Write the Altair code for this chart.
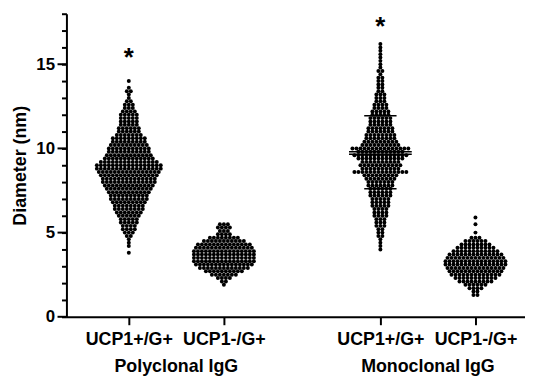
import altair as alt
import pandas as pd

# ---- data (beeswarm rows: value -> number of dots) ----
group_pos = [1.0, 2.0, 3.646, 4.646]
tick_labels = ["UCP1+/G+", "UCP1-/G+", "UCP1+/G+", "UCP1-/G+"]
group_titles = ["Polyclonal IgG", "Monoclonal IgG"]
group_title_pos = [1.5, 4.146]
major_ticks = [0, 5, 10, 15]
minor_ticks = list(range(0, 19))

poly_pos_values = [3.8, 4.2, 4.4, 4.6, 4.8, 5.0, 5.2, 5.4, 5.6, 5.8, 6.0, 6.2, 6.4, 6.6, 6.8,
                   7.0, 7.2, 7.4, 7.6, 7.8, 8.0, 8.2, 8.4, 8.6, 8.8, 9.0, 9.2, 9.4, 9.6, 9.8,
                   10.0, 10.2, 10.4, 10.6, 10.8, 11.0, 11.2, 11.4, 11.6, 11.8, 12.0, 12.2,
                   12.4, 12.6, 12.8, 13.0, 13.2, 13.4, 13.6, 14.0]
poly_pos_counts = [1, 1, 1, 1, 2, 3, 4, 4, 5, 5, 6, 7, 8, 8, 9,
                   10, 10, 11, 12, 13, 14, 14, 15, 16, 17, 17, 15, 13, 12, 11,
                   11, 10, 9, 9, 7, 6, 6, 5, 5, 5, 5, 4,
                   3, 3, 2, 1, 1, 2, 1, 1]

poly_neg_values = [1.9, 2.1, 2.3, 2.5, 2.7, 2.9, 3.1, 3.3, 3.5, 3.7, 3.9, 4.1, 4.3, 4.5,
                   4.7, 4.9, 5.1, 5.3, 5.5]
poly_neg_counts = [1, 2, 4, 7, 10, 13, 15, 16, 16, 16, 16, 15, 14, 11,
                   8, 4, 3, 4, 3]

mono_pos_values = [4.0, 4.2, 4.4, 4.6, 4.8, 5.0, 5.2, 5.4, 5.6, 5.8, 6.0, 6.2, 6.4, 6.6,
                   6.8, 7.0, 7.2, 7.4, 7.6, 7.8, 8.0, 8.2, 8.4, 8.6, 8.8, 9.0, 9.2, 9.4,
                   9.6, 9.8, 10.0, 10.2, 10.4, 10.6, 10.8, 11.0, 11.2, 11.4, 11.6, 11.8,
                   12.0, 12.2, 12.4, 12.6, 12.8, 13.0, 13.2, 13.4, 13.6, 13.8, 14.0, 14.2,
                   14.4, 14.6, 14.8, 15.0, 15.2, 15.4, 15.6, 15.8, 16.0, 16.2]
mono_pos_counts = [1, 1, 1, 1, 2, 2, 2, 3, 3, 3, 4, 4, 4, 5,
                   5, 5, 6, 6, 6, 7, 7, 8, 9, 14, 10, 11, 10, 12,
                   14, 12, 15, 10, 9, 8, 8, 7, 7, 6, 6, 6,
                   5, 5, 4, 4, 3, 3, 3, 2, 2, 2, 2, 2,
                   1, 2, 1, 1, 1, 1, 1, 1, 1, 1]

mono_neg_values = [1.3, 1.5, 1.7, 1.9, 2.1, 2.3, 2.5, 2.7, 2.9, 3.1, 3.3, 3.5, 3.7, 3.9,
                   4.1, 4.3, 4.5, 4.7, 5.0, 5.5, 5.9]
mono_neg_counts = [2, 2, 4, 6, 9, 11, 13, 14, 15, 16, 16, 15, 14, 12,
                   10, 8, 6, 3, 1, 1, 1]

# mean / median / SD lines visible on the monoclonal UCP1+/G+ group
stat_values = [9.8, 9.65, 11.94, 7.6]
stat_half_widths = [0.33, 0.33, 0.17, 0.17]

star_pos = [1.0, 3.646]
star_values = [14.9, 16.75]

# ---- build tables ----
series = [
    (poly_pos_values, poly_pos_counts),
    (poly_neg_values, poly_neg_counts),
    (mono_pos_values, mono_pos_counts),
    (mono_neg_values, mono_neg_counts),
]
rows = []
for pos, (vals, cnts) in zip(group_pos, series):
    for v, c in zip(vals, cnts):
        for _ in range(c):
            rows.append({"pos": pos, "value": v})
dots = pd.DataFrame(rows)

stats = pd.DataFrame({
    "value": stat_values,
    "x1": [group_pos[2] - w for w in stat_half_widths],
    "x2": [group_pos[2] + w for w in stat_half_widths],
})
stars = pd.DataFrame({"pos": star_pos, "value": star_values, "t": ["*", "*"]})
titles = pd.DataFrame({"pos": group_title_pos, "t": group_titles})
majors = pd.DataFrame({"value": major_ticks})

W, H = 463, 306
FONT = "Liberation Sans"
SPACING = 0.042  # horizontal dot spacing in x units

label_expr = " : ".join(
    f"abs(datum.value - {p}) < 0.01 ? '{l}'" for p, l in zip(group_pos, tick_labels)
) + " : ''"

xscale = alt.Scale(domain=[0.344, 5.167], nice=False, zero=False)
yscale = alt.Scale(domain=[0, 18], nice=False)

x_axis = alt.Axis(
    values=group_pos, labelExpr=label_expr, title=None, grid=False,
    domainColor="black", domainWidth=2, tickColor="black", tickWidth=2, tickSize=8,
    labelFont=FONT, labelFontWeight="bold", labelFontSize=18, labelColor="black",
    labelPadding=6, labelAngle=0, labelOverlap=False,
)
y_axis = alt.Axis(
    values=minor_ticks,
    labelExpr="datum.value % 5 === 0 ? datum.label : ''",
    tickSize=5, labelOverlap=False,
    grid=False, domainColor="black", domainWidth=2, tickColor="black", tickWidth=2,
    labelFont=FONT, labelFontWeight="bold", labelFontSize=17, labelColor="black",
    labelPadding=7, title="Diameter (nm)", titleFont=FONT, titleFontWeight="bold",
    titleFontSize=18, titleColor="black", titlePadding=6,
)

def X(field):
    return alt.X(field, scale=xscale, axis=x_axis)

def Y(field):
    return alt.Y(field, scale=yscale, axis=y_axis)

points = alt.Chart(dots).transform_window(
    k="row_number()", groupby=["pos", "value"]
).transform_joinaggregate(
    n="count()", groupby=["pos", "value"]
).transform_calculate(
    xx=f"datum.pos + (datum.k - (datum.n + 1) / 2) * {SPACING}"
).mark_circle(size=16, color="black", opacity=1).encode(
    x=X("xx:Q"), y=Y("value:Q"),
)

major_rules = alt.Chart(majors).mark_rule(color="black", strokeWidth=2).encode(
    x=alt.value(-9), x2=alt.value(0), y=Y("value:Q")
)

lines = alt.Chart(stats).mark_rule(color="black", strokeWidth=1.5).encode(
    x=X("x1:Q"), x2="x2:Q", y=Y("value:Q")
)

star_text = alt.Chart(stars).mark_text(
    font=FONT, fontWeight="bold", fontSize=26, baseline="alphabetic", color="black"
).encode(x=X("pos:Q"), y=Y("value:Q"), text="t:N")

title_text = alt.Chart(titles).mark_text(
    font=FONT, fontWeight="bold", fontSize=18, baseline="top", color="black"
).encode(x=X("pos:Q"), y=alt.value(H + 42), text="t:N")

chart = alt.layer(points, lines, major_rules, star_text, title_text).properties(
    width=W, height=H,
    padding={"left": 59, "top": 4, "right": 0, "bottom": 58},
    autosize=alt.AutoSizeParams(type="none"),
).configure_view(stroke=None)

chart.save("out.html", embed_options={"renderer": "svg", "actions": False})
